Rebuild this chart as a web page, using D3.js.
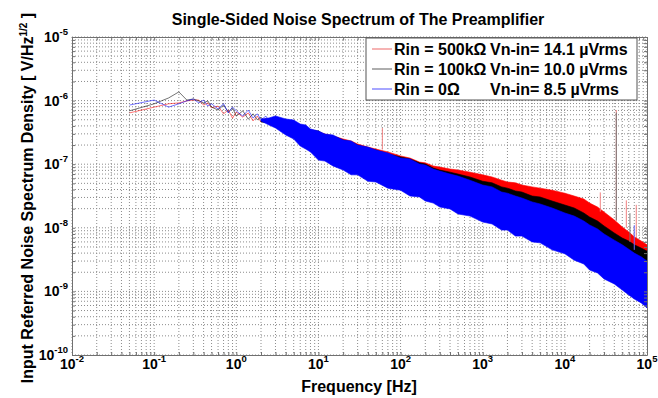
<!DOCTYPE html>
<html>
<head>
<meta charset="utf-8">
<script src="https://cdn.jsdelivr.net/npm/d3@7/dist/d3.min.js"></script>
<style>
  body { margin: 0; background: #fff; }
  text { font-family: "Liberation Sans", Arial, sans-serif; font-weight: bold; fill: #000; }
</style>
</head>
<body>
<svg id="chart" width="658" height="398"></svg>
<script>
// ---- data (V/sqrt(Hz)) ----
const seriesNames = ["Rin = 500k\u03A9", "Rin = 100k\u03A9", "Rin = 0\u03A9"];
const seriesVn = ["Vn-in= 14.1 \u00B5Vrms", "Vn-in= 10.0 \u00B5Vrms", "Vn-in= 8.5 \u00B5Vrms"];

// low frequency part, single traces
const lowFreq = [0.05, 0.1, 0.15, 0.2, 0.25, 0.3, 0.35, 0.4, 0.45, 0.5,
  0.6, 0.7, 0.8, 0.9, 1.0, 1.2, 1.4, 1.6, 1.8, 2.0, 2.3, 2.6, 3.0, 3.5, 4.0,
  4.5, 5.0, 5.5, 6.0, 7.0, 8.0];
const redLow = [6.4e-7, 7.9e-7, 8.9e-7, 9.2e-7, 9.9e-7, 1.02e-6, 1.02e-6, 8.5e-7, 9.2e-7, 7.7e-7,
  8.2e-7, 6.2e-7, 7.1e-7, 5.3e-7, 6.6e-7, 5.5e-7, 6.4e-7, 4.8e-7, 5.7e-7, 4.6e-7, 5.3e-7, 4.1e-7, 4.8e-7, 3.85e-7, 4.3e-7,
  3.58e-7, 4.44e-7, 3.33e-7, 3.99e-7, 2.88e-7, 3.58e-7];
const blackLow = [6.9e-7, 8.9e-7, 1.1e-6, 1.37e-6, 1.02e-6, 1.06e-6, 9.9e-7, 9.2e-7, 9.9e-7, 7.9e-7,
  7.1e-7, 8.5e-7, 6.6e-7, 7.7e-7, 5.7e-7, 6.9e-7, 5.1e-7, 6.2e-7, 5.0e-7, 5.5e-7, 4.45e-7, 5.1e-7, 4.0e-7, 4.6e-7, 3.7e-7,
  4.13e-7, 3.21e-7, 3.85e-7, 2.98e-7, 3.58e-7, 2.68e-7];
const blueLow = [8.5e-7, 1.02e-6, 7.9e-7, 8.9e-7, 9.9e-7, 1.06e-6, 9.2e-7, 1.02e-6, 8.2e-7, 8.9e-7,
  7.4e-7, 8.9e-7, 6.4e-7, 7.9e-7, 6.9e-7, 5.7e-7, 7.1e-7, 5.3e-7, 6.2e-7, 5.0e-7, 5.7e-7, 4.3e-7, 5.1e-7, 4.0e-7, 4.45e-7,
  3.45e-7, 4.13e-7, 3.09e-7, 3.71e-7, 2.78e-7, 3.33e-7];

// dense part: upper / lower envelope of each noise band
const bandFreq = [2, 2.5, 3, 4, 5, 6, 7, 8, 10, 12, 15, 20, 25, 30, 40, 50, 70, 100, 130, 170,
  200, 250, 300, 400, 500, 700, 1e3, 1.3e3, 1.7e3, 2e3, 2.5e3, 3e3, 4e3, 5e3, 7e3,
  1e4, 1.3e4, 1.7e4, 2e4, 2.5e4, 3e4, 4e4, 5e4, 6e4, 7e4, 8.5e4, 1e5];
const redUpper = [4.95e-7, 4.95e-7, 5.33e-7, 4.78e-7, 4.44e-7, 4.13e-7, 3.71e-7, 3.45e-7, 3.21e-7, 2.98e-7,
  2.78e-7, 2.49e-7, 2.32e-7, 2.08e-7, 1.86e-7, 1.73e-7, 1.56e-7, 1.35e-7, 1.25e-7, 1.08e-7,
  1.05e-7, 9.4e-8, 9.0e-8, 8.4e-8, 8.1e-8, 7.5e-8, 6.8e-8, 6.3e-8, 5.6e-8, 5.25e-8,
  5.1e-8, 4.7e-8, 4.4e-8, 4.2e-8, 3.9e-8, 3.5e-8, 3.16e-8, 2.84e-8, 2.45e-8, 2.12e-8,
  1.77e-8, 1.33e-8, 1.03e-8, 8.6e-9, 7.2e-9, 6.2e-9, 5.4e-9];
const redLower = [4.95e-7, 4.78e-7, 4.78e-7, 3.99e-7, 3.58e-7, 3.09e-7, 2.78e-7, 2.49e-7, 2.08e-7, 1.93e-7,
  1.73e-7, 1.45e-7, 1.35e-7, 1.21e-7, 1.08e-7, 1.01e-7, 8.4e-8, 7.5e-8, 6.5e-8, 5.85e-8,
  5.4e-8, 4.9e-8, 4.4e-8, 3.9e-8, 3.5e-8, 3.16e-8, 2.55e-8, 2.37e-8, 1.98e-8, 1.9e-8,
  1.65e-8, 1.59e-8, 1.33e-8, 1.23e-8, 1.03e-8, 8.9e-9, 7.4e-9, 6.4e-9, 5.4e-9, 4.6e-9,
  3.9e-9, 3.1e-9, 2.6e-9, 2.17e-9, 1.88e-9, 1.62e-9, 1.4e-9];
const blackUpper = [4.95e-7, 5.14e-7, 5.33e-7, 4.78e-7, 4.61e-7, 4.13e-7, 3.85e-7, 3.45e-7, 3.33e-7, 2.88e-7,
  2.78e-7, 2.40e-7, 2.23e-7, 2.00e-7, 1.80e-7, 1.67e-7, 1.45e-7, 1.30e-7, 1.21e-7, 1.05e-7,
  1.01e-7, 8.7e-8, 8.1e-8, 7.5e-8, 7.0e-8, 6.3e-8, 5.4e-8, 5.1e-8, 4.4e-8, 4.2e-8,
  3.8e-8, 3.65e-8, 3.16e-8, 3.05e-8, 2.64e-8, 2.28e-8, 2.05e-8, 1.71e-8, 1.48e-8, 1.28e-8,
  1.07e-8, 8.3e-9, 6.9e-9, 6.2e-9, 5.4e-9, 4.8e-9, 4.3e-9];
const blackLower = [4.61e-7, 4.44e-7, 4.44e-7, 3.71e-7, 3.33e-7, 2.88e-7, 2.58e-7, 2.32e-7, 1.93e-7, 1.80e-7,
  1.61e-7, 1.35e-7, 1.25e-7, 1.12e-7, 1.01e-7, 9.4e-8, 7.8e-8, 7.0e-8, 6.1e-8, 5.4e-8,
  5.1e-8, 4.5e-8, 4.1e-8, 3.65e-8, 3.3e-8, 2.94e-8, 2.37e-8, 2.2e-8, 1.84e-8, 1.77e-8,
  1.53e-8, 1.48e-8, 1.23e-8, 1.15e-8, 9.6e-9, 8.3e-9, 6.9e-9, 6.0e-9, 5.0e-9, 4.3e-9,
  3.6e-9, 2.9e-9, 2.4e-9, 2.0e-9, 1.75e-9, 1.51e-9, 1.31e-9];
const blueUpper = [5.14e-7, 5.33e-7, 5.73e-7, 5.14e-7, 4.95e-7, 4.29e-7, 4.13e-7, 3.58e-7, 3.33e-7, 2.98e-7,
  2.88e-7, 2.40e-7, 2.32e-7, 2.00e-7, 1.86e-7, 1.67e-7, 1.50e-7, 1.25e-7, 1.21e-7, 1.01e-7,
  9.7e-8, 8.4e-8, 7.8e-8, 7.0e-8, 6.5e-8, 5.6e-8, 4.7e-8, 4.4e-8, 3.65e-8, 3.5e-8,
  3.16e-8, 2.94e-8, 2.55e-8, 2.37e-8, 2.05e-8, 1.71e-8, 1.53e-8, 1.28e-8, 1.11e-8, 9.6e-9,
  8.0e-9, 6.4e-9, 5.4e-9, 4.6e-9, 4.0e-9, 3.5e-9, 3.0e-9];
const blueLower = [4.78e-7, 4.13e-7, 3.71e-7, 2.88e-7, 2.49e-7, 1.93e-7, 1.73e-7, 1.56e-7, 1.16e-7, 1.12e-7,
  9.4e-8, 8.1e-8, 6.8e-8, 6.8e-8, 5.4e-8, 5.25e-8, 4.2e-8, 3.9e-8, 3.16e-8, 3.05e-8,
  2.64e-8, 2.45e-8, 2.12e-8, 1.98e-8, 1.65e-8, 1.53e-8, 1.23e-8, 1.15e-8, 9.2e-9, 9.2e-9,
  7.4e-9, 7.4e-9, 6.0e-9, 5.8e-9, 4.5e-9, 3.9e-9, 3.1e-9, 2.7e-9, 2.17e-9, 1.95e-9,
  1.57e-9, 1.31e-9, 1.05e-9, 8.8e-10, 7.6e-10, 6.6e-10, 5.5e-10];

// narrow spectral lines sticking out of the bands
const spikeFreq = [60, 42300, 42300, 27000, 56000, 74000, 62000, 70000];
const spikeTop = [3.7e-7, 7.1e-7, 6.5e-7, 3.6e-8, 2.7e-8, 2.3e-8, 1.7e-8, 1.1e-8];
const spikeBase = [1.7e-7, 1.3e-8, 1.3e-8, 1.8e-8, 1.0e-8, 7.0e-9, 6.0e-9, 4.5e-9];
const spikeSeries = [0, 0, 1, 0, 0, 0, 1, 2];

const xDecades = [-2, -1, 0, 1, 2, 3, 4, 5];
const yDecades = [-10, -9, -8, -7, -6, -5];

// ---- chart ----
const colors = ["#ff0000", "#000000", "#0000ff"];
const lineColors = ["#f08080", "#777777", "#6a6aff"];
const lows = [redLow, blackLow, blueLow];
const uppers = [redUpper, blackUpper, blueUpper];
const lowers = [redLower, blackLower, blueLower];

const svg = d3.select("#chart");
const margin = {top: 37, right: 11, bottom: 43, left: 72};
const width = 658 - margin.left - margin.right;
const height = 398 - margin.top - margin.bottom;

const g = svg.append("g")
  .attr("transform", "translate(" + margin.left + "," + margin.top + ")");

const x = d3.scaleLog().domain([1e-2, 1e5]).range([0, width]);
const y = d3.scaleLog().domain([1e-10, 1e-5]).range([height, 0]);

const xGrid = xDecades.slice(0, -1).flatMap(d => d3.range(1, 10).map(k => k * Math.pow(10, d))).concat([1e5]);
const yGrid = yDecades.slice(0, -1).flatMap(d => d3.range(1, 10).map(k => k * Math.pow(10, d))).concat([1e-5]);

// grid
g.append("g").selectAll("line").data(xGrid).enter().append("line")
  .attr("x1", d => x(d)).attr("x2", d => x(d))
  .attr("y1", 0).attr("y2", height)
  .attr("stroke", "#8c8c8c").attr("stroke-dasharray", "1,2");
g.append("g").selectAll("line").data(yGrid).enter().append("line")
  .attr("y1", d => y(d)).attr("y2", d => y(d))
  .attr("x1", 0).attr("x2", width)
  .attr("stroke", "#8c8c8c").attr("stroke-dasharray", "1,2");

svg.append("clipPath").attr("id", "clip")
  .append("rect").attr("width", width).attr("height", height);
const plot = g.append("g").attr("clip-path", "url(#clip)");

// low frequency traces (under the dense bands)
const line = d3.line().x(d => x(d.f)).y(d => y(d.v));
[0, 1, 2].forEach(i => {
  plot.append("path").datum(lowFreq.map((f, j) => ({f: f, v: lows[i][j]})))
    .attr("d", line)
    .attr("fill", "none")
    .attr("stroke", colors[i]).attr("stroke-opacity", 0.55).attr("stroke-width", 1);
});

// bands
const area = d3.area().x(d => x(d.f)).y0(d => y(d.lo)).y1(d => y(d.hi));
[0, 1, 2].forEach(i => {
  const data = bandFreq.map((f, j) => ({f: f, hi: uppers[i][j], lo: lowers[i][j]}));
  plot.append("path").datum(data)
    .attr("d", area)
    .attr("fill", colors[i])
    .attr("stroke", colors[i]).attr("stroke-width", 0.6);
});

// spikes
plot.append("g").selectAll("line").data(spikeFreq.map((f, j) => ({f: f, top: spikeTop[j], base: spikeBase[j], s: spikeSeries[j]})))
  .enter().append("line")
  .attr("x1", d => x(d.f)).attr("x2", d => x(d.f))
  .attr("y1", d => y(d.base)).attr("y2", d => y(d.top))
  .attr("stroke", d => lineColors[d.s]).attr("stroke-width", 1);

// axes (inner ticks on all sides)
const axStyle = sel => {
  sel.select(".domain").attr("stroke", "#707070");
  sel.selectAll(".tick line").attr("stroke", "#707070");
  sel.selectAll(".tick text").remove();
};
g.append("g").attr("transform", "translate(0," + height + ")")
  .call(d3.axisBottom(x).tickValues(xGrid).tickSize(-3).tickSizeOuter(0)).call(axStyle);
g.append("g")
  .call(d3.axisTop(x).tickValues(xGrid).tickSize(-3).tickSizeOuter(0)).call(axStyle);
g.append("g")
  .call(d3.axisLeft(y).tickValues(yGrid).tickSize(-3).tickSizeOuter(0)).call(axStyle);
g.append("g").attr("transform", "translate(" + width + ",0)")
  .call(d3.axisRight(y).tickValues(yGrid).tickSize(-3).tickSizeOuter(0)).call(axStyle);

// tick labels 10^n
xDecades.forEach(d => {
  const t = g.append("text").attr("x", x(Math.pow(10, d))).attr("y", height + 14)
    .attr("text-anchor", "middle").style("font-size", "14px");
  t.append("tspan").text("10");
  t.append("tspan").attr("dy", -7).style("font-size", "9.5px").text(d);
});
yDecades.forEach(d => {
  const t = g.append("text").attr("x", -4).attr("y", y(Math.pow(10, d)) + 5)
    .attr("text-anchor", "end").style("font-size", "14px");
  t.append("tspan").text("10");
  t.append("tspan").attr("dy", -7).style("font-size", "9.5px").text(d);
});

// titles
svg.append("text").attr("x", 358).attr("y", 25).attr("text-anchor", "middle")
  .style("font-size", "16px").text("Single-Sided Noise Spectrum of The Preamplifier");
svg.append("text").attr("x", 359).attr("y", 392).attr("text-anchor", "middle")
  .style("font-size", "16px").text("Frequency [Hz]");
const yl = svg.append("text").attr("transform", "translate(33,198) rotate(-90)")
  .attr("text-anchor", "middle").style("font-size", "16px");
yl.append("tspan").text("Input Referred Noise Spectrum Density [ V/Hz");
yl.append("tspan").attr("dy", -6).style("font-size", "10px").text("1/2");
yl.append("tspan").attr("dy", 6).text(" ]");

// legend
const lg = svg.append("g");
lg.append("rect").attr("x", 366).attr("y", 38).attr("width", 271).attr("height", 62)
  .attr("fill", "#fff").attr("stroke", "#555").attr("stroke-width", 1);
seriesNames.forEach((name, i) => {
  const cy = 49 + i * 20;
  lg.append("line").attr("x1", 372).attr("x2", 392).attr("y1", cy).attr("y2", cy)
    .attr("stroke", lineColors[i]).attr("stroke-width", 1.2);
  lg.append("text").attr("x", 394).attr("y", cy + 6).style("font-size", "16px").text(name);
  lg.append("text").attr("x", 490).attr("y", cy + 6).style("font-size", "16px").text(seriesVn[i]);
});
</script>
</body>
</html>
